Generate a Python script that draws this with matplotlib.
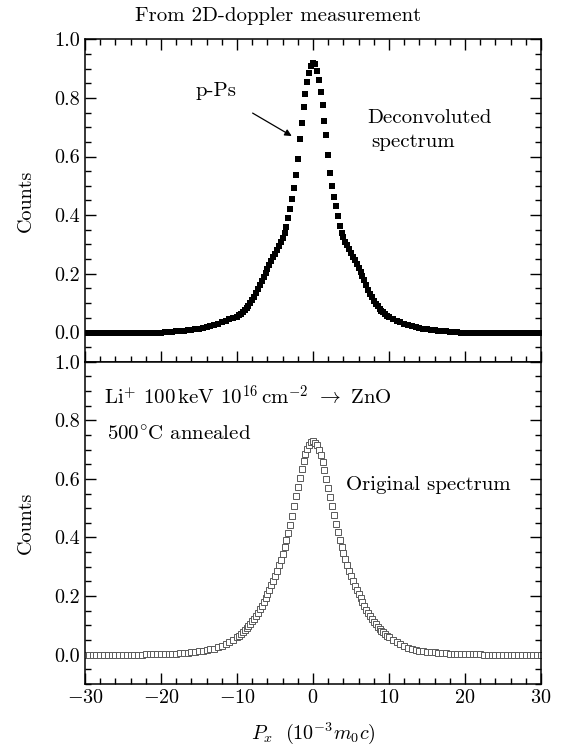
import numpy as np
import matplotlib.pyplot as plt
from matplotlib.ticker import MultipleLocator

plt.rcParams["font.family"] = "serif"
plt.rcParams["font.serif"] = ["cmr10"]
plt.rcParams["mathtext.fontset"] = "cm"
plt.rcParams["axes.formatter.use_mathtext"] = True
plt.rcParams["axes.unicode_minus"] = True

# momentum grid (10^-3 m0c): 0.5 steps in the tails, 0.25 steps in the core
px_tail_left = np.arange(-30.0, -10.4, 0.5)
px_core = np.arange(-10.0, 10.01, 0.25)
px_tail_right = np.arange(10.5, 30.01, 0.5)
px = np.concatenate([px_tail_left, px_core, px_tail_right])

# deconvoluted spectrum (top panel)
deconv_tail_left = [
    -0.003, -0.003, -0.003, -0.003, -0.003, -0.003, -0.003, -0.003, -0.003, -0.003,
    -0.003, -0.003, -0.003, -0.002, -0.002, -0.002, -0.002, -0.002, -0.002, -0.001,
    -0.001, 0.000, 0.001, 0.002, 0.003, 0.004, 0.006, 0.007, 0.009, 0.011,
    0.013, 0.015, 0.018, 0.021, 0.025, 0.029, 0.034, 0.039, 0.045, 0.050,
]
deconv_core = [
    0.054, 0.058, 0.063, 0.069, 0.075, 0.082, 0.090, 0.099, 0.109, 0.120,
    0.133, 0.147, 0.161, 0.176, 0.190, 0.204, 0.217, 0.230, 0.243, 0.256,
    0.268, 0.282, 0.296, 0.308, 0.322, 0.338, 0.358, 0.390, 0.422, 0.455,
    0.492, 0.538, 0.590, 0.660, 0.715, 0.770, 0.815, 0.855, 0.885, 0.910,
    0.918,
    0.915, 0.892, 0.860, 0.820, 0.775, 0.722, 0.672, 0.605, 0.545, 0.500,
    0.462, 0.430, 0.396, 0.362, 0.340, 0.324, 0.310, 0.298, 0.285, 0.272,
    0.258, 0.246, 0.232, 0.218, 0.205, 0.192, 0.178, 0.162, 0.146, 0.132,
    0.119, 0.108, 0.098, 0.089, 0.081, 0.074, 0.068, 0.062, 0.057, 0.052,
]
deconv_tail_right = [
    0.045, 0.039, 0.034, 0.029, 0.025, 0.021, 0.018, 0.015, 0.013, 0.011,
    0.009, 0.007, 0.006, 0.004, 0.003, 0.002, 0.001, 0.000, -0.001, -0.001,
    -0.002, -0.002, -0.002, -0.002, -0.002, -0.003, -0.003, -0.003, -0.003, -0.003,
    -0.003, -0.003, -0.003, -0.003, -0.003, -0.003, -0.003, -0.003, -0.003, -0.003,
]

# original spectrum (bottom panel)
orig_tail_left = [
    0.000, 0.000, 0.000, 0.000, 0.000, 0.000, 0.000, 0.000, 0.000, 0.000,
    0.000, 0.000, 0.000, 0.000, 0.000, 0.000, 0.001, 0.001, 0.001, 0.002,
    0.002, 0.003, 0.003, 0.004, 0.004, 0.005, 0.006, 0.007, 0.008, 0.009,
    0.011, 0.013, 0.015, 0.018, 0.021, 0.025, 0.030, 0.036, 0.043, 0.051,
]
orig_core = [
    0.060, 0.065, 0.071, 0.077, 0.083, 0.090, 0.097, 0.105, 0.114, 0.123,
    0.133, 0.144, 0.155, 0.167, 0.180, 0.194, 0.208, 0.222, 0.237, 0.253,
    0.270, 0.287, 0.305, 0.324, 0.344, 0.366, 0.390, 0.416, 0.444, 0.474,
    0.506, 0.540, 0.572, 0.603, 0.633, 0.660, 0.684, 0.703, 0.717, 0.726,
    0.728,
    0.724, 0.715, 0.700, 0.680, 0.657, 0.630, 0.600, 0.570, 0.538, 0.506,
    0.476, 0.446, 0.418, 0.392, 0.368, 0.346, 0.325, 0.305, 0.286, 0.268,
    0.251, 0.235, 0.220, 0.206, 0.192, 0.179, 0.166, 0.154, 0.143, 0.132,
    0.122, 0.113, 0.104, 0.096, 0.089, 0.082, 0.076, 0.070, 0.064, 0.059,
]
orig_tail_right = [
    0.050, 0.042, 0.035, 0.029, 0.024, 0.020, 0.017, 0.014, 0.012, 0.010,
    0.009, 0.008, 0.007, 0.006, 0.005, 0.004, 0.004, 0.003, 0.003, 0.002,
    0.002, 0.001, 0.001, 0.001, 0.000, 0.000, 0.000, 0.000, 0.000, 0.000,
    0.000, 0.000, 0.000, 0.000, 0.000, 0.000, 0.000, 0.000, 0.000, 0.000,
]

deconv = np.array(deconv_tail_left + deconv_core + deconv_tail_right)
orig = np.array(orig_tail_left + orig_core + orig_tail_right)

fig = plt.figure(figsize=(5.63, 7.53), dpi=100)
ax1 = fig.add_axes([0.151, 0.5197, 0.810, 0.4281])
ax2 = fig.add_axes([0.151, 0.0916, 0.810, 0.4281], sharex=ax1)

ax1.plot(px, deconv, "s", color="black", markersize=4.3, markeredgewidth=0)
ax2.plot(px, orig, "s", markerfacecolor="white", markeredgecolor="0.35",
         markersize=4.4, markeredgewidth=0.7)

for ax in (ax1, ax2):
    ax.set_xlim(-30, 30)
    ax.set_ylim(-0.1, 1.0)
    ax.xaxis.set_major_locator(MultipleLocator(10))
    ax.xaxis.set_minor_locator(MultipleLocator(2))
    ax.yaxis.set_major_locator(MultipleLocator(0.2))
    ax.yaxis.set_minor_locator(MultipleLocator(0.05))
    ax.yaxis.set_major_formatter(plt.FuncFormatter(lambda v, _: f"{v:.1f}"))
    ax.tick_params(which="both", direction="in", right=True, labelsize=14.5, width=1.0)
    ax.tick_params(which="major", length=8)
    ax.tick_params(which="minor", length=4)
    for s in ax.spines.values():
        s.set_linewidth(1.1)
    ax.set_ylabel("Counts", fontsize=14.5, labelpad=14)

ax1.tick_params(which="both", top=True, bottom=True, labelbottom=False)
ax2.tick_params(which="both", top=False)
ax2.set_xlabel(r"$P_x\ \ (10^{-3}m_0c)$", fontsize=14.5, labelpad=10)

# top panel annotations
fig.text(0.494, 0.979, "From 2D-doppler measurement", fontsize=15, ha="center", va="center")
ax1.annotate("p-Ps", xy=(-2.8, 0.67), xytext=(-12.8, 0.822), fontsize=15,
             ha="center", va="center",
             arrowprops=dict(arrowstyle="-|>", color="black", lw=0.9,
                             shrinkA=14, shrinkB=0, mutation_scale=10))
ax1.text(7.1, 0.732, "Deconvoluted", fontsize=15, ha="left", va="center")
ax1.text(7.6, 0.651, "spectrum", fontsize=15, ha="left", va="center")

# bottom panel annotations
ax2.text(-27.5, 0.88, r"Li$^{+}$ 100$\,$keV 10$^{16}\,$cm$^{-2}$ $\rightarrow$ ZnO",
         fontsize=15, ha="left", va="center")
ax2.text(-27.1, 0.75, r"500$^{\circ}$C annealed", fontsize=15, ha="left", va="center")
ax2.text(4.4, 0.579, "Original spectrum", fontsize=15, ha="left", va="center")

fig.savefig("out.png", dpi=100)
